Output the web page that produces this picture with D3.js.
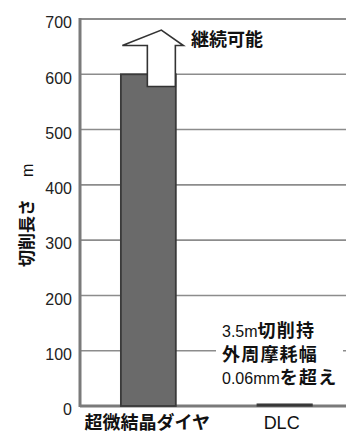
<!DOCTYPE html>
<html><head><meta charset="utf-8">
<script src="https://cdn.jsdelivr.net/npm/d3@7/dist/d3.min.js"></script>
<style>
html,body{margin:0;padding:0;background:#fff;}
svg{display:block;}
</style></head>
<body>
<svg id="c" width="346" height="434"></svg>
<script>
const categories = ["超微結晶ダイヤ", "DLC"];
const values = [600, 3.5];
const yTicks = [0, 100, 200, 300, 400, 500, 600, 700];
const yTitle = ["切削長さ", "m"];
const arrowLabel = "継続可能";
const arrowValues = {base: 578, head: 652, tip: 680};
const noteLines = [
  [{t:"3.5m", cjk:false}, {t:"切削持", cjk:true}],
  [{t:"外周摩耗幅", cjk:true}],
  [{t:"0.06mm", cjk:false}, {t:"を超え", cjk:true}]
];

(function(){
const LAT = "'Liberation Sans', Arial, sans-serif";
const CJK = "'Noto Sans CJK JP', sans-serif";
const svg = d3.select("#c");
const pLeft = 80, pRight = 346, pTop = 19, pBottom = 406;

const y = d3.scaleLinear().domain([0, 700]).range([pBottom, pTop]);
const x = d3.scaleBand().domain(categories).range([pLeft, 353]).paddingInner(0.597).paddingOuter(0.3);

// gridlines
svg.append("g").selectAll("line").data(yTicks.filter(d => d > 0)).join("line")
  .attr("x1", pLeft).attr("x2", pRight)
  .attr("y1", d => y(d)).attr("y2", d => y(d))
  .attr("stroke", "#8c8c8c").attr("stroke-width", d => d === 700 ? 2 : 1.6);

// left border and baseline
svg.append("line").attr("x1", pLeft).attr("x2", pLeft).attr("y1", y(700) - 1).attr("y2", y(0) + 1)
  .attr("stroke", "#7a7a7a").attr("stroke-width", 3);
svg.append("line").attr("x1", pLeft).attr("x2", pRight).attr("y1", y(0)).attr("y2", y(0))
  .attr("stroke", "#7a7a7a").attr("stroke-width", 3);

// y axis labels
const yAxis = d3.axisLeft(y).tickValues(yTicks).tickSize(0).tickPadding(8);
const ga = svg.append("g").attr("transform", `translate(${pLeft},0)`).call(yAxis);
ga.select(".domain").remove();
ga.selectAll("text").attr("font-family", LAT).attr("font-size", 16).attr("fill", "#222").attr("dy", "0.55em");

// bars
svg.append("g").selectAll("rect").data(values).join("rect")
  .attr("x", (d, i) => x(categories[i]))
  .attr("width", x.bandwidth())
  .attr("y", d => y(d))
  .attr("height", d => y(0) - y(d))
  .attr("fill", (d, i) => i === 0 ? "#6a6a6a" : "#333")
  .attr("stroke", "#3a3a3a").attr("stroke-width", (d, i) => i === 0 ? 1.8 : 1.2);

// arrow
const cx = x(categories[0]) + x.bandwidth() / 2 + 13;
const sw = 14, hw = 30;
const pts = [
  [cx - sw, y(arrowValues.base)], [cx - sw, y(arrowValues.head)], [cx - hw - 9, y(arrowValues.head)],
  [cx, y(arrowValues.tip)], [cx + hw - 8, y(arrowValues.head)], [cx + sw, y(arrowValues.head)],
  [cx + sw, y(arrowValues.base)]
];
svg.append("path").attr("d", d3.line()(pts) + "Z")
  .attr("fill", "#fff").attr("stroke", "#333").attr("stroke-width", 1.6).attr("stroke-linejoin", "miter");

svg.append("text").attr("x", 191).attr("y", 46)
  .attr("font-family", CJK).attr("font-weight", "bold").attr("font-size", 18).attr("fill", "#111")
  .text(arrowLabel);

// note box
svg.append("rect").attr("x", 216).attr("y", 318).attr("width", 127).attr("height", 72).attr("fill", "#fff");
noteLines.forEach((line, li) => {
  const t = svg.append("text").attr("x", 222).attr("y", 337 + li * 23.5).attr("fill", "#111");
  line.forEach(seg => {
    t.append("tspan").text(seg.t)
      .attr("font-family", seg.cjk ? CJK : LAT)
      .attr("font-weight", seg.cjk ? "bold" : "normal")
      .attr("font-size", seg.cjk ? 18 : 16)
      .attr("letter-spacing", seg.cjk ? 1.2 : 0);
  });
});

// category labels
svg.append("g").selectAll("text").data(categories).join("text")
  .attr("x", d => x(d) + x.bandwidth() / 2 - (d === "DLC" ? 3 : 1))
  .attr("y", 429)
  .attr("text-anchor", "middle")
  .attr("font-family", (d, i) => i === 0 ? CJK : LAT)
  .attr("font-weight", (d, i) => i === 0 ? "bold" : "normal")
  .attr("font-size", 18).attr("fill", "#111")
  .text(d => d);

// y title
const yt = svg.append("text").attr("transform", "translate(33,267) rotate(-90)").attr("fill", "#111");
yt.append("tspan").text(yTitle[0]).attr("font-family", CJK).attr("font-weight", "bold").attr("font-size", 17);
yt.append("tspan").text(yTitle[1]).attr("dx", 22).attr("font-family", LAT).attr("font-size", 16);
})();
</script>
</body></html>
